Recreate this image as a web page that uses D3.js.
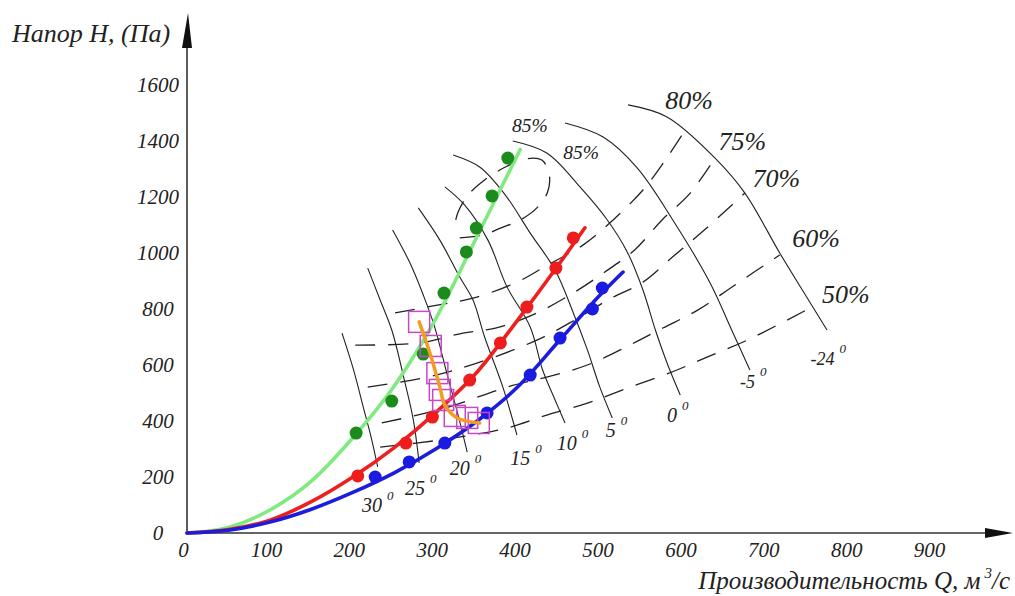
<!DOCTYPE html>
<html><head><meta charset="utf-8">
<script src="https://cdn.jsdelivr.net/npm/d3@7"></script>
<style>
html,body{margin:0;padding:0;background:#fff;}
svg{display:block;}
text{font-family:"Liberation Serif","Times New Roman","DejaVu Serif",serif;font-style:italic;fill:#222;}
</style></head><body>
<svg id="chart" width="1015" height="596"></svg>
<script>
// ---------- data (Q in m3/s, H in Pa) ----------
const xTicks = [0,100,200,300,400,500,600,700,800,900];
const yTicks = [0,200,400,600,800,1000,1200,1400,1600];

// fan characteristic curves
const greenCurve = [[0,0],[50,20],[100,82],[150,185],[200,340],[250,525],[300,765],[350,1060],[402,1370]];
const redCurve   = [[0,0],[50,12],[100,46],[150,112],[200,200],[250,305],[300,430],[350,575],[400,765],[450,965],[480,1090]];
const blueCurve  = [[0,0],[50,10],[100,39],[150,85],[200,145],[250,215],[300,300],[350,400],[400,525],[450,690],[500,855],[526,932]];

// measured points
const greenPts = [[204,357],[247,471],[285,639],[310,857],[337,1004],[349,1089],[368,1204],[387,1339]];
const redPts   = [[206,204],[264,321],[296,414],[341,546],[378,679],[410,807],[445,946],[466,1054]];
const bluePts  = [[227,200],[268,254],[311,321],[362,429],[414,564],[450,696],[489,800],[501,875]];

// operating points (orange) and markers (magenta)
const orangeCurve = [[280,754],[293,643],[305,521],[311,457],[326,411],[353,393]];
const squarePts   = [[280,754],[294,668],[302,571],[305,511],[309,475],[323,418],[338,411],[352,393]];

// blade angle curves
const angleNames = ["30","25","20","15","10","5","0","-5","-24"];
const angleCurves = [
  [[187,714],[201,582],[212,457],[222,343],[230,236]],
  [[218,946],[233,832],[247,725],[263,536],[273,404],[280,250]],
  [[248,1082],[269,964],[285,850],[298,743],[314,564],[327,421],[338,289]],
  [[279,1161],[305,1046],[329,914],[345,832],[359,700],[381,521],[398,350]],
  [[311,1236],[335,1171],[363,1046],[386,879],[414,736],[429,582],[444,475],[456,393]],
  [[321,1350],[353,1307],[384,1207],[414,1071],[444,939],[466,786],[483,654],[498,521],[513,411]],
  [[393,1400],[434,1357],[474,1236],[507,1118],[531,1004],[550,868],[565,725],[580,600],[595,493]],
  [[456,1464],[502,1414],[543,1304],[586,1118],[631,893],[657,725],[679,582]],
  [[532,1529],[579,1486],[637,1339],[673,1214],[715,1000],[746,850],[772,725]]
];
const angleLabelQ = [211,263,317,390,446,505,579,667,752];
const angleLabelH = [75,136,207,243,296,343,396,518,600];

// efficiency curves
const effNames = ["80%","75%","70%","60%","50%"];
const effCurves = [
  [[251,786],[302,814],[345,839],[396,893],[435,957],[478,1029],[514,1118],[550,1225],[577,1332],[601,1439]],
  [[203,671],[281,679],[333,714],[372,732],[417,779],[462,850],[504,932],[540,1011],[573,1118],[607,1214],[637,1339]],
  [[218,521],[290,557],[347,604],[422,689],[468,761],[510,836],[550,896],[587,989],[624,1082],[673,1214]],
  [[235,393],[311,446],[386,521],[434,557],[483,600],[534,671],[574,732],[616,796],[661,886],[715,993]],
  [[233,307],[305,332],[386,375],[434,421],[483,464],[532,518],[585,575],[628,629],[676,689],[752,804]]
];
const effLabelQ = [577,641,682,730,766];
const effLabelH = [1514,1368,1236,1021,821];
const loop85 = [[329,1054],[357,1064],[378,1089],[402,1118],[423,1164],[435,1218],[437,1279],[428,1332],[408,1336],[384,1307],[359,1261],[339,1207],[327,1146],[322,1089]];
const label85Q = [392,454];
const label85H = [1432,1336];

// ---------- drawing ----------
const svg = d3.select("#chart");
const x = d3.scaleLinear().domain([0,1000]).range([187,1016]);
const y = d3.scaleLinear().domain([0,1600]).range([533,85]);
const x0 = x(0), y0 = y(0);

const smooth = d3.line().x(d=>x(d[0])).y(d=>y(d[1])).curve(d3.curveCatmullRom.alpha(0.5));
const mono = d3.line().x(d=>x(d[0])).y(d=>y(d[1])).curve(d3.curveMonotoneX);

// axes labels
const gx = svg.append("g").attr("transform",`translate(0,${y0})`)
  .call(d3.axisBottom(x).tickValues(xTicks).tickSize(0).tickPadding(9).tickFormat(d3.format("d")));
gx.select(".domain").remove();
gx.selectAll("text").attr("font-size",21).attr("dx",-4);

const gy = svg.append("g").attr("transform",`translate(${x0},0)`)
  .call(d3.axisLeft(y).tickValues(yTicks).tickSize(0).tickFormat(d3.format("d")));
gy.select(".domain").remove();
gy.selectAll("text").attr("font-size",21).attr("x",-29).attr("text-anchor","middle");

// axis lines with arrows
svg.append("line").attr("x1",x0).attr("y1",y0).attr("x2",992).attr("y2",y0).attr("stroke","#333").attr("stroke-width",1.6);
svg.append("polygon").attr("points",`1013,${y0} 985,${y0-5} 985,${y0+5}`).attr("fill","#111");
svg.append("line").attr("x1",x0).attr("y1",y0).attr("x2",x0).attr("y2",36).attr("stroke","#333").attr("stroke-width",1.6);
svg.append("polygon").attr("points",`${x0+1},13 ${x0-5},48 ${x0+5},48`).attr("fill","#111");

// axis titles
svg.append("text").attr("x",12).attr("y",42).attr("font-size",26).text("Напор Н, (Па)");
const xt = svg.append("text").attr("x",1010).attr("y",589).attr("font-size",25).attr("text-anchor","end");
xt.append("tspan").text("Производительность Q, м");
xt.append("tspan").attr("dx",4).attr("dy",-11).attr("font-size",15).text("3");
xt.append("tspan").attr("dy",11).attr("font-size",25).text("/с");

// blade angle curves (solid)
svg.append("g").selectAll("path").data(angleCurves).join("path")
  .attr("d",smooth).attr("fill","none").attr("stroke","#222").attr("stroke-width",1.1);

// efficiency curves (dashed)
svg.append("g").selectAll("path").data(effCurves).join("path")
  .attr("d",smooth).attr("fill","none").attr("stroke","#222").attr("stroke-width",1.3).attr("stroke-dasharray","20,13");
svg.append("path").datum(loop85).attr("d",smooth).attr("fill","none").attr("stroke","#222")
  .attr("stroke-width",1.3).attr("stroke-dasharray","20,13");

// angle labels
const al = svg.append("g").selectAll("text").data(angleNames).join("text")
  .attr("x",(d,i)=>x(angleLabelQ[i])).attr("y",(d,i)=>y(angleLabelH[i]))
  .attr("font-size",(d,i)=>i>=7?18:20);
al.append("tspan").text(d=>d);
al.append("tspan").attr("dx",5).attr("dy",-12).attr("font-size",13).text("0");

// efficiency labels
svg.append("g").selectAll("text").data(effNames).join("text")
  .attr("x",(d,i)=>x(effLabelQ[i])).attr("y",(d,i)=>y(effLabelH[i]))
  .attr("font-size",26).text(d=>d);
svg.append("g").selectAll("text").data(label85Q).join("text")
  .attr("x",d=>x(d)).attr("y",(d,i)=>y(label85H[i]))
  .attr("font-size",19.5).text("85%");

// fan curves
const fans = [[greenCurve,"#80ea80"],[redCurve,"#ee1f1f"],[blueCurve,"#1c1cdc"]];
svg.append("g").selectAll("path").data(fans).join("path")
  .attr("d",d=>mono(d[0])).attr("fill","none").attr("stroke",d=>d[1]).attr("stroke-width",3.6).attr("stroke-linecap","round");

// measured points
const dots = [[greenPts,"#1b8c1b"],[redPts,"#ee1c1c"],[bluePts,"#1a1ae0"]];
dots.forEach(([pts,c])=>{
  svg.append("g").selectAll("circle").data(pts).join("circle")
    .attr("cx",d=>x(d[0])).attr("cy",d=>y(d[1])).attr("r",6.5).attr("fill",c);
});

// magenta squares
svg.append("g").selectAll("rect").data(squarePts).join("rect")
  .attr("x",d=>x(d[0])-10.5).attr("y",d=>y(d[1])-10.5).attr("width",21).attr("height",21)
  .attr("fill","none").attr("stroke","#c648c6").attr("stroke-width",1.5);

// orange curve
svg.append("path").datum(orangeCurve).attr("d",smooth).attr("fill","none")
  .attr("stroke","#f59a23").attr("stroke-width",3.5).attr("stroke-linecap","round");
</script>
</body></html>
